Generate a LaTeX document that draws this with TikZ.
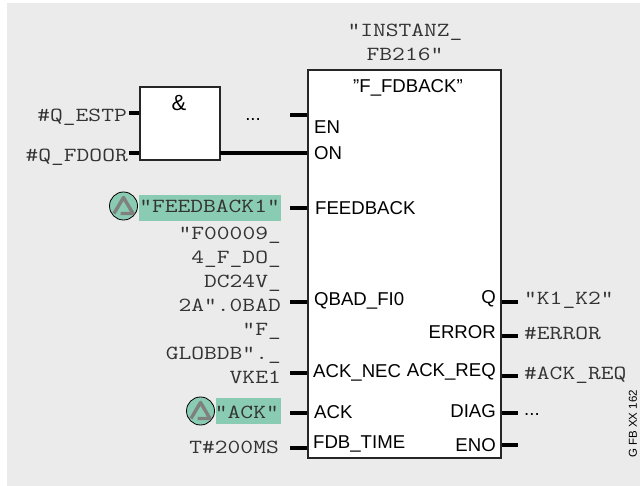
\documentclass[tikz,border=0pt]{standalone}
\usepackage{fontspec}
\setmainfont{Liberation Sans}
\newfontfamily\monofnt[FakeStretch=1.24]{Latin Modern Mono}
\definecolor{bgGray}{HTML}{EBEBEB}
\definecolor{safeGreen}{HTML}{8ACBB3}
\definecolor{txtGray}{HTML}{333333}
\usetikzlibrary{positioning}
\begin{document}
\begin{tikzpicture}[x=1pt,y=-1pt,
	pinname/.style = { font=\fontsize{18.6}{18.6}\selectfont, inner sep=0pt},
	param/.style = { font=\monofnt\fontsize{20}{24}\selectfont, text=txtGray, inner sep=0pt, align=right},
	safebg/.style = { fill=safeGreen, inner sep=0pt, minimum height=26},
	block/.style = { draw=black!85, line width=1.2pt, fill=white, inner sep=0pt},
	pin/.style = { line width=4pt},
	fmark/.pic = {
		\node[circle, draw=black, fill=safeGreen, line width=.8pt, minimum size=28, inner sep=0pt] (-c) at (0,0) {};
		\draw[gray, line width=3.4pt, line join=round] (-9.5,7.5) -- (0,-8.5) -- (9.5,7.5) -- (-3,7.5);
	}]
	
	% Background
	\useasboundingbox (0,0) rectangle (640,486);
	\fill[white] (0,0) rectangle (640,486);
	\fill[bgGray] (7,3) rectangle (640,486);
	
	% Blocks
	\node[block, minimum width=80, minimum height=73] (andgate) at (180,123.5) {};
	\node[block, minimum width=193, minimum height=388] (fb) at (404.5,264) {};
	\node[font=\fontsize{22}{22}\selectfont, inner sep=0pt] (andsign) at (179,103) {\&};
	\node[param, align=center] (instname) at (405,42) {"INSTANZ\_\\FB216"};
	\node[pinname] (fbname) at (408,88) {"F\_FDBACK"};
	
	% Free ends of the pins
	\coordinate (pEstp) at (129,113);
	\coordinate (pDoor) at (129,153);
	\coordinate (pEn) at (290,115);
	\coordinate (pOn) at (220,153);
	\coordinate (pFeed) at (290,208);
	\coordinate (pQbad) at (290,302);
	\coordinate (pNec) at (290,373);
	\coordinate (pAck) at (290,413);
	\coordinate (pTime) at (290,448);
	\coordinate (pQ) at (518,302);
	\coordinate (pErr) at (518,336);
	\coordinate (pReq) at (518,376);
	\coordinate (pDiag) at (518,413);
	\coordinate (pEno) at (518,445);
	
	% Pins
	\draw[pin] (pEstp) -- (pEstp -| andgate.west);
	\draw[pin] (pDoor) -- (pDoor -| andgate.west);
	\draw[pin] (pOn) -- (pOn -| fb.west);
	\draw[pin] (pEn) -- (pEn -| fb.west);
	\draw[pin] (pFeed) -- (pFeed -| fb.west);
	\draw[pin] (pQbad) -- (pQbad -| fb.west);
	\draw[pin] (pNec) -- (pNec -| fb.west);
	\draw[pin] (pAck) -- (pAck -| fb.west);
	\draw[pin] (pTime) -- (pTime -| fb.west);
	\draw[pin] (pQ) -- (pQ -| fb.east);
	\draw[pin] (pErr) -- (pErr -| fb.east);
	\draw[pin] (pReq) -- (pReq -| fb.east);
	\draw[pin] (pDiag) -- (pDiag -| fb.east);
	\draw[pin] (pEno) -- (pEno -| fb.east);
	
	% Input pin names
	\node[pinname, anchor=west] (nEn) at (314,127) {EN};
	\node[pinname, anchor=west] (nOn) at (314,153) {ON};
	\node[pinname, anchor=west] (nFeed) at (315,208) {FEEDBACK};
	\node[pinname, anchor=west] (nQbad) at (314,301) {QBAD\_FI0};
	\node[pinname, anchor=west] (nNec) at (313,373) {ACK\_NEC};
	\node[pinname, anchor=west] (nAck) at (314,412) {ACK};
	\node[pinname, anchor=west] (nTime) at (313,444) {FDB\_TIME};
	
	% Output pin names
	\node[pinname, anchor=east] (nQ) at (496,299) {Q};
	\node[pinname, anchor=east] (nErr) at (496,332) {ERROR};
	\node[pinname, anchor=east] (nReq) at (496,372) {ACK\_REQ};
	\node[pinname, anchor=east] (nDiag) at (496,411) {DIAG};
	\node[pinname, anchor=east] (nEno) at (496,445) {ENO};
	
	% Safety highlighted parameters
	\node[safebg, minimum width=142] (feedbg) at (210,208) {};
	\node[safebg, minimum width=65] (ackbg) at (248.5,411) {};
	\pic (feedmark) at (123.5,206) {fmark};
	\pic (ackmark) at (200.5,411) {fmark};
	
	% Input parameters
	\node[param, anchor=east] (lEstp) at (127,117) {\#Q\_ESTP};
	\node[param, anchor=east] (lDoor) at (128,157) {\#Q\_FDOOR};
	\node[pinname] (lDots) at (253,120) {...};
	\node[param, anchor=east] (lFeed) at (280,206.5) {"FEEDBACK1"};
	\node[param, anchor=south east] (lQbad) at (281,311.5) {"F00009\_\\4\_F\_DO\_\\DC24V\_\\2A".0BAD};
	\node[param, anchor=south east] (lNec) at (281,384) {"F\_\\GLOBDB".\_\\VKE1};
	\node[param, anchor=east] (lAck) at (279,412) {"ACK"};
	\node[param, anchor=east] (lTime) at (279,447) {T\#200MS};
	
	% Output parameters
	\node[param, anchor=west] (lQ) at (524,300) {"K1\_K2"};
	\node[param, anchor=west] (lErr) at (524,333) {\#ERROR};
	\node[param, anchor=west] (lReq) at (524,375) {\#ACK\_REQ};
	\node[pinname, anchor=west] (lDiag) at (524,415) {...};
	
	% Drawing number
	\node[font=\fontsize{11.5}{11.5}\selectfont, inner sep=0pt, rotate=90] (drawno) at (633,424) {G FB XX 162};
	
\end{tikzpicture}
\end{document}
